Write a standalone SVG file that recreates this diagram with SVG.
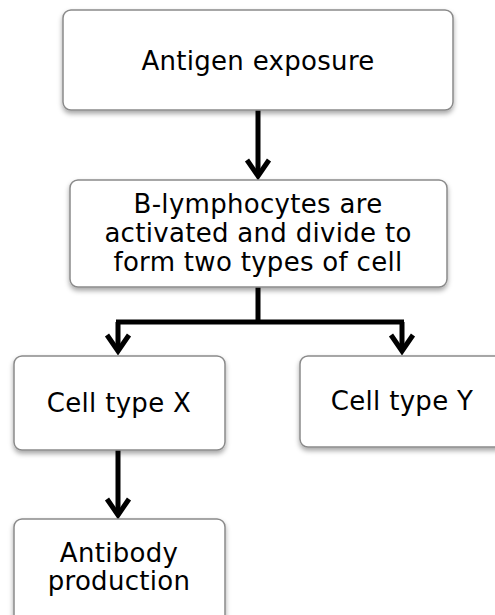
<svg xmlns="http://www.w3.org/2000/svg" width="495" height="615" viewBox="0 0 495 615">
<defs>
<filter id="sh" x="-10%" y="-10%" width="120%" height="130%">
<feDropShadow dx="0" dy="3" stdDeviation="2.5" flood-color="#000" flood-opacity="0.35"/>
</filter>
</defs>
<style>
.box{fill:#fff;stroke:#8a8a8a;stroke-width:1.5;filter:url(#sh)}
.t{font-family:"DejaVu Sans",Verdana,sans-serif;font-size:26px;letter-spacing:0.3px;fill:#000;text-anchor:middle}
.c{fill:none;stroke:#000;stroke-width:5;stroke-linejoin:miter}
.h{fill:none;stroke:#000;stroke-width:5;stroke-linecap:butt;stroke-linejoin:miter}
</style>
<rect width="495" height="615" fill="#fff"/>
<g id="connectors">
<path class="c" d="M258 110 V176"/>
<path class="h" d="M247 160 L258 176 L269 160"/>
<path class="c" d="M258 287 V322 M116 322 H404 M118 322 V350 M402 322 V350"/>
<path class="h" d="M107 335 L118 351 L129 335"/>
<path class="h" d="M391 335 L402 351 L413 335"/>
<path class="c" d="M118 450 V515"/>
<path class="h" d="M107 499 L118 515 L129 499"/>
</g>
<g id="n1">
<rect class="box" x="63" y="10" width="390" height="100" rx="8"/>
<text class="t" x="258" y="70">Antigen exposure</text>
</g>
<g id="n2">
<rect class="box" x="70" y="180" width="377" height="107" rx="8"/>
<text class="t" x="258" y="213">B-lymphocytes are</text>
<text class="t" x="258" y="242">activated and divide to</text>
<text class="t" x="258" y="271">form two types of cell</text>
</g>
<g id="n3">
<rect class="box" x="14" y="356" width="211" height="94" rx="8"/>
<text class="t" x="119" y="412">Cell type X</text>
</g>
<g id="n4">
<rect class="box" x="300" y="356" width="205" height="91" rx="8"/>
<text class="t" x="402" y="410">Cell type Y</text>
</g>
<g id="n5">
<rect class="box" x="14" y="519" width="211" height="110" rx="8"/>
<text class="t" x="119" y="562">Antibody</text>
<text class="t" x="119" y="590">production</text>
</g>
</svg>
